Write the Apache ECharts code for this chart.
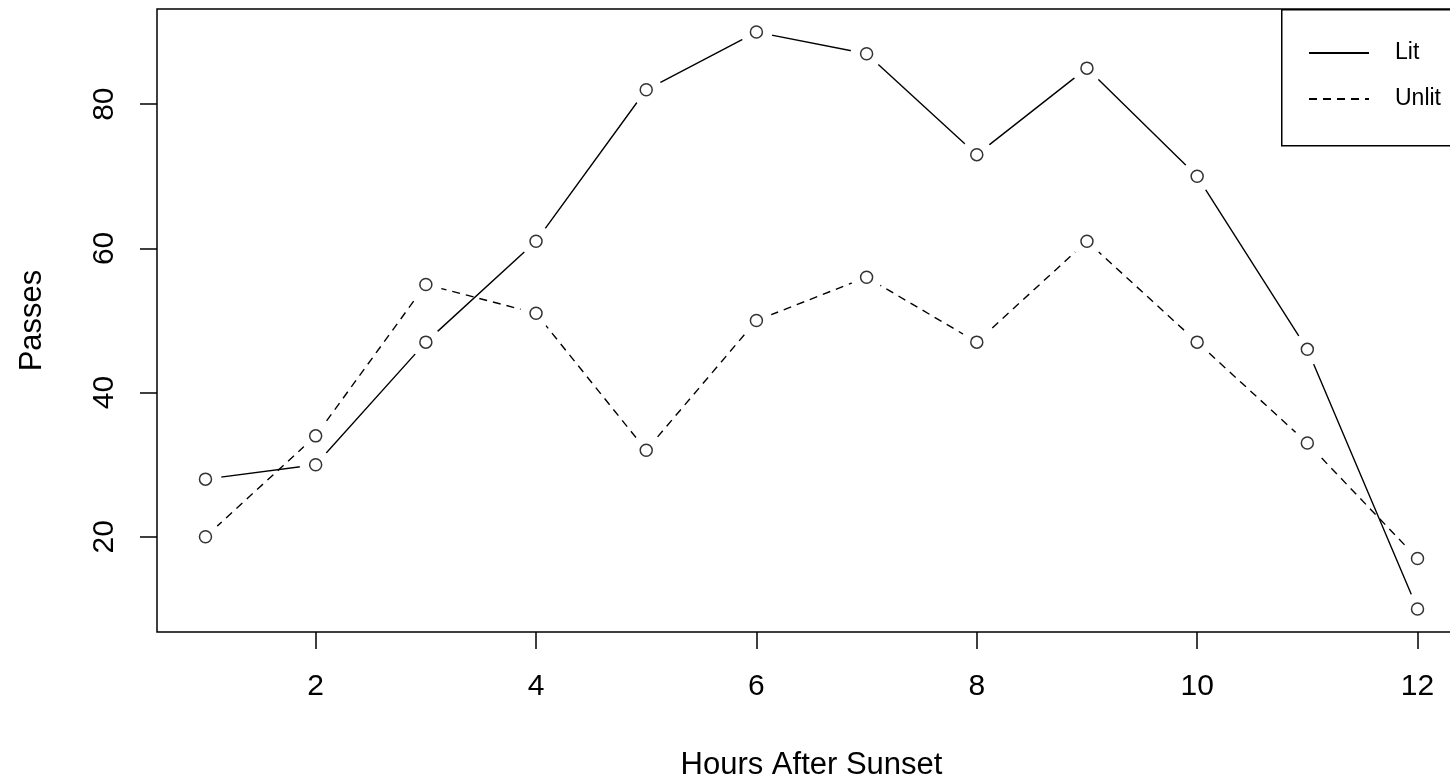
<!DOCTYPE html>
<html>
<head>
<meta charset="utf-8">
<script src="https://cdn.jsdelivr.net/npm/echarts@6/dist/echarts.min.js"></script>
<style>
html,body{margin:0;padding:0;background:#fff;}
#chart{width:1450px;height:782px;}
</style>
</head>
<body>
<div id="chart"></div>
<script>
var hours = [1,2,3,4,5,6,7,8,9,10,11,12];
var lit = [28,30,47,61,82,90,87,73,85,70,46,10];
var unlit = [20,34,55,51,32,50,56,47,61,47,33,17];
var xTicks = [2,4,6,8,10,12];
var yTicks = [20,40,60,80];
var seriesNames = ['Lit','Unlit'];

function pairs(ys){ return hours.map(function(h,i){ return [h, ys[i]]; }); }

var font = 'Liberation Sans, Arial, sans-serif';
var chart = echarts.init(document.getElementById('chart'), null, {renderer:'canvas'});

function lineSeries(name, ys, dash){
  return {
    name: name, type: 'line', data: pairs(ys), symbol: 'none', showSymbol:false, z: 1, zlevel: 0,
    lineStyle: {color:'#000', width: 1.4, type: dash ? [8,6] : 'solid'},
    itemStyle: {color:'#000'}, animation:false
  };
}
function haloSeries(ys){
  return {
    type: 'scatter', data: pairs(ys), symbol:'circle', symbolSize: 32, silent:true, z: 1, zlevel: 1,
    itemStyle: {color:'#ffffff', borderWidth:0, opacity:1}, animation:false
  };
}
function pointSeries(ys){
  return {
    type: 'scatter', data: pairs(ys), symbol:'circle', symbolSize: 12, silent:true, z: 2, zlevel: 1,
    itemStyle: {color:'#fff', borderColor:'#000', borderWidth:1.5}, animation:false
  };
}

chart.setOption({
  backgroundColor:'#fff',
  animation:false,
  grid: {left:157, top:9, right:-16, bottom:150, outerBoundsMode:'none', containLabel:false,
         show:true, borderColor:'#000', borderWidth:1.5, backgroundColor:'transparent'},
  xAxis: {
    type:'value', min:0.56, max:12.44,
    name:'Hours After Sunset', nameLocation:'middle', nameGap:118,
    nameTextStyle:{fontFamily:font, fontSize:31, color:'#000'},
    axisLine:{show:false},
    axisTick:{show:true, length:17, lineStyle:{color:'#000', width:1.5}, customValues: xTicks},
    axisLabel:{fontFamily:font, fontSize:30, color:'#000', margin:40, customValues: xTicks},
    splitLine:{show:false}
  },
  yAxis: {
    type:'value', min:6.8, max:93.2,
    name:'Passes', nameLocation:'middle', nameGap:109, nameRotate:90,
    nameTextStyle:{fontFamily:font, fontSize:31, color:'#000'},
    axisLine:{show:false},
    axisTick:{show:true, length:17, lineStyle:{color:'#000', width:1.5}, customValues: yTicks},
    axisLabel:{fontFamily:font, fontSize:30, color:'#000', margin:37, rotate:90, customValues: yTicks},
    splitLine:{show:false}
  },
  legend: {
    data: seriesNames, orient:'vertical', left:1308, top:41, padding:0,
    itemWidth:60, itemHeight:14, itemGap:22,
    itemStyle:{opacity:0},
    textStyle:{fontFamily:font, fontSize:23, color:'#000', lineHeight:24, padding:[0,0,0,21]},
    z: 10
  },
  graphic: [{
    type:'rect', left:1281, top:9, shape:{width:220, height:136},
    style:{fill:'#fff', stroke:'#000', lineWidth:1.5}, z: 5, silent:true
  }],
  series: [
    lineSeries(seriesNames[0], lit, false),
    lineSeries(seriesNames[1], unlit, true),
    haloSeries(lit), haloSeries(unlit),
    pointSeries(lit), pointSeries(unlit)
  ]
});
</script>
</body>
</html>
